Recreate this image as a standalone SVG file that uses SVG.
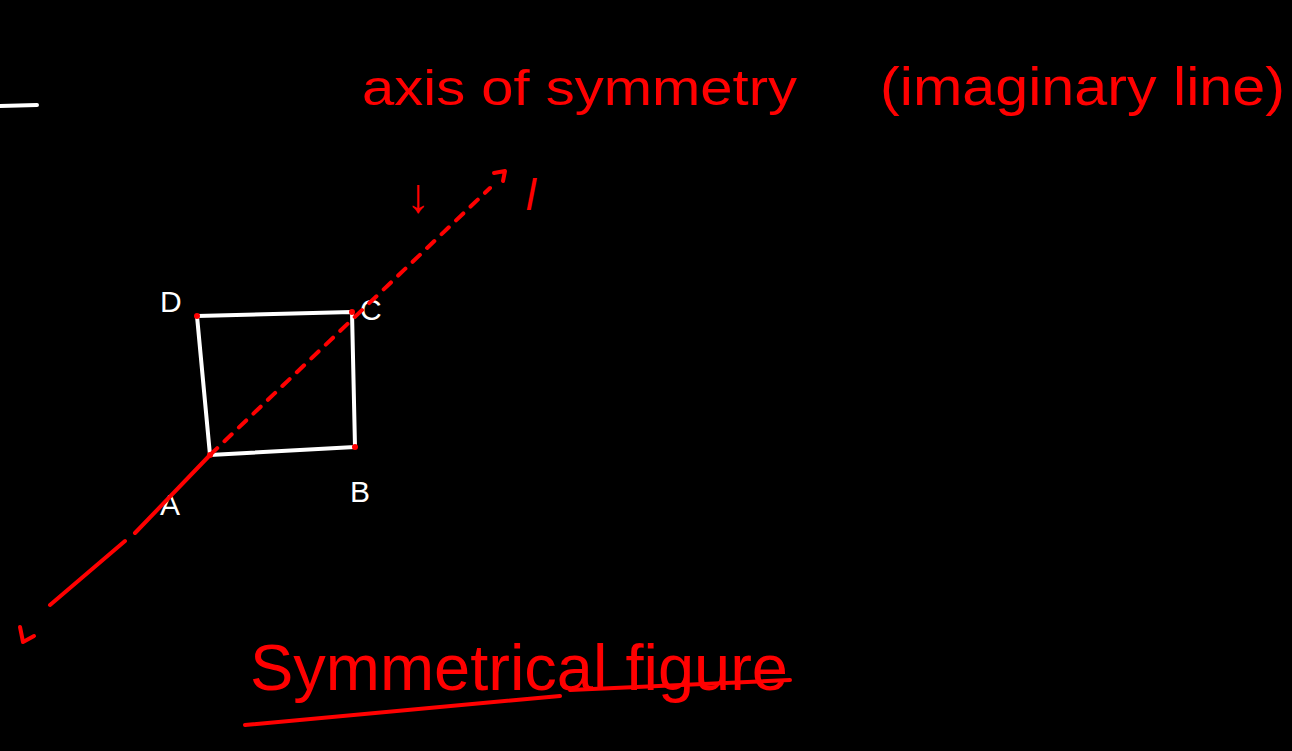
<svg xmlns="http://www.w3.org/2000/svg" width="1292" height="751" viewBox="0 0 1292 751">
<style>
.red{fill:#ff0000;font-family:"Liberation Sans",Arial,sans-serif}
.wt{fill:#ffffff;font-family:"Liberation Sans",Arial,sans-serif;font-size:30px}
.rs{stroke:#ff0000;stroke-width:4;fill:none;stroke-linecap:round;stroke-linejoin:round}
.ws{stroke:#ffffff;stroke-width:4;fill:none;stroke-linecap:round;stroke-linejoin:round}
</style>
<rect width="1292" height="751" fill="#000000"/>
<line x1="0" y1="106" x2="37" y2="105" class="ws"/>
<g id="title">
<text class="red" x="362" y="105" font-size="50" textLength="435" lengthAdjust="spacingAndGlyphs">axis of symmetry</text>
<text class="red" x="880" y="105" font-size="54" textLength="405" lengthAdjust="spacingAndGlyphs">(imaginary line)</text>
</g>
<g id="pointer">
<text class="red" x="406" y="212" font-size="48" font-weight="bold">↓</text>
<text class="red" x="526" y="210" font-size="44" font-style="italic">l</text>
</g>
<g id="square">
<path class="ws" d="M197,316 L352,312 L355,447 L210,455 Z"/>
<circle cx="197" cy="316" r="3" fill="#ff0000"/>
<circle cx="352" cy="312" r="3" fill="#ff0000"/>
<circle cx="355" cy="447" r="3" fill="#ff0000"/>
<circle cx="210" cy="455" r="3" fill="#ff0000"/>
</g>
<g id="labels">
<text class="wt" x="160" y="312">D</text>
<text class="wt" x="360" y="320">C</text>
<text class="wt" x="350" y="502">B</text>
<text class="wt" x="160" y="515">A</text>
</g>
<g id="connectors">
<path class="rs" d="M210,455 L135,533 M125,541 L50,605"/>
<path class="rs" d="M20,627 L23,642 L34,636"/>
<path class="rs" d="M210,455 L490,188" stroke-dasharray="10,10"/>
<path class="rs" d="M494,173 L505,171 L503,181"/>
</g>
<g id="caption">
<text class="red" x="250" y="690" font-size="64" textLength="538" lengthAdjust="spacingAndGlyphs">Symmetrical figure</text>
<path class="rs" d="M245,725 L560,696 M570,690 L790,680"/>
</g>
</svg>
